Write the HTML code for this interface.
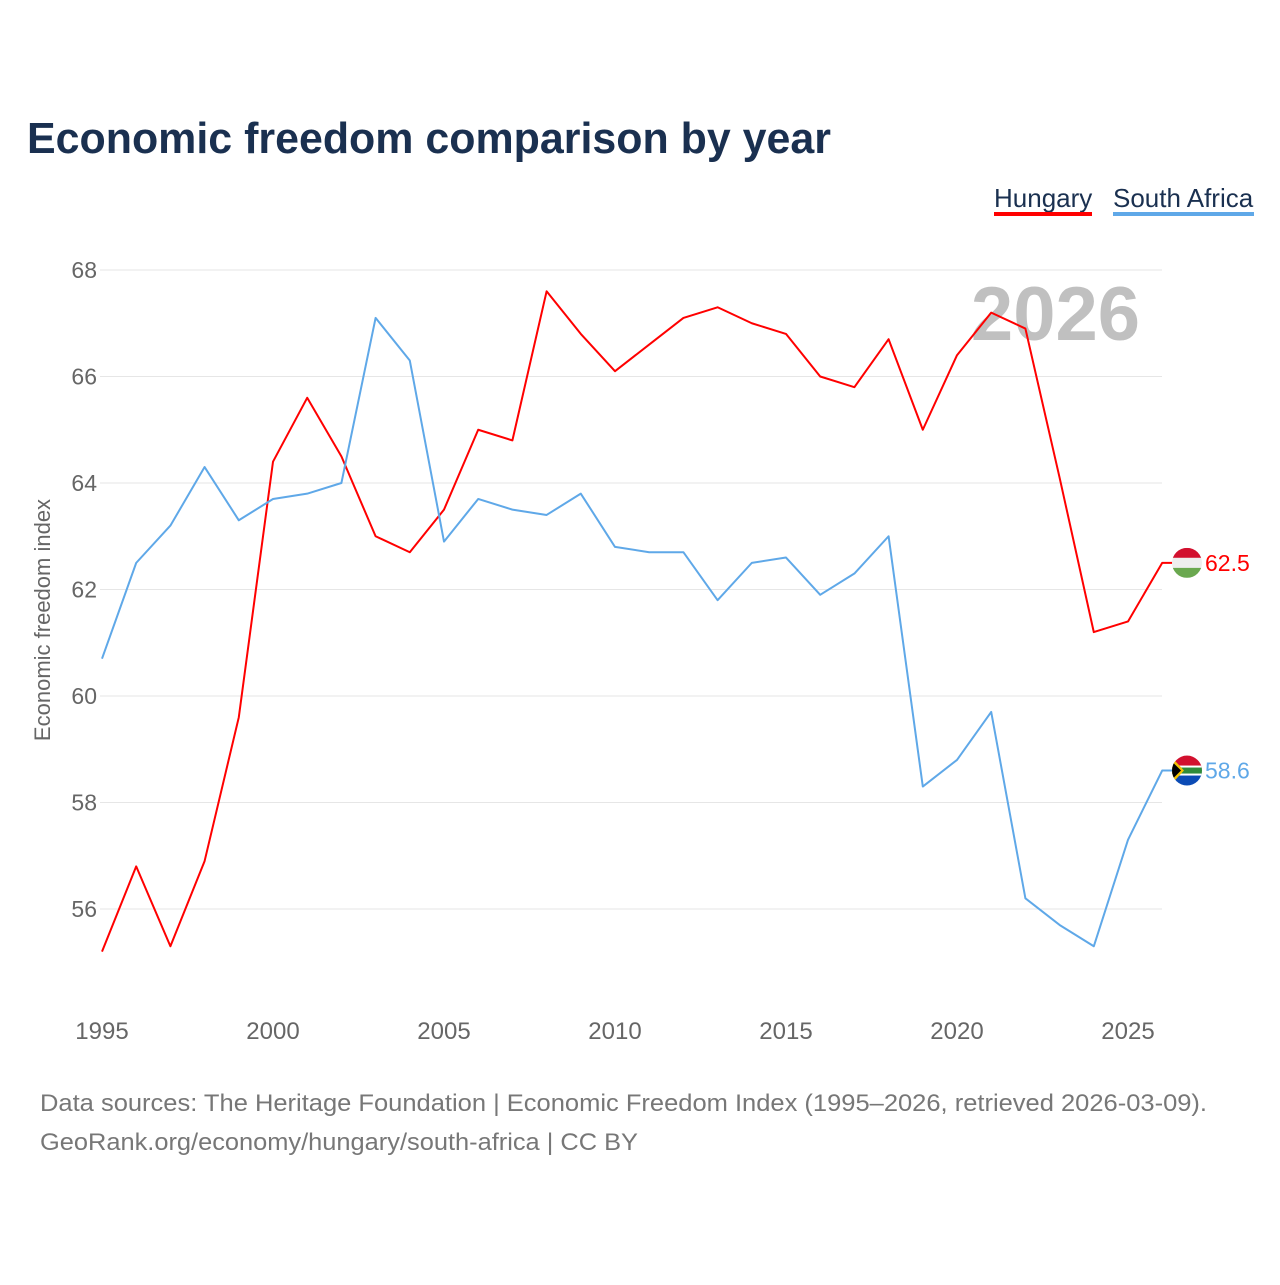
<!DOCTYPE html>
<html><head><meta charset="utf-8"><style>
body{margin:0;background:#fff;font-family:"Liberation Sans",sans-serif}
</style></head><body>
<svg id="c" width="1280" height="1280" xmlns="http://www.w3.org/2000/svg">
<text x="27" y="153" font-size="44" font-weight="bold" fill="#1a3050" textLength="804" lengthAdjust="spacingAndGlyphs">Economic freedom comparison by year</text>
<g>
<text x="994" y="207" font-size="26" fill="#1a3050">Hungary</text>
<rect x="994" y="212" width="98" height="4" fill="#ff0000"/>
<text x="1113" y="207" font-size="26" fill="#1a3050">South Africa</text>
<rect x="1113" y="212" width="141" height="4" fill="#5fa8e8"/>
</g>
<text x="1140" y="340" font-size="76" font-weight="bold" fill="#c0c0c0" text-anchor="end">2026</text>
<g id="grid"></g><g id="lines"></g>
<text transform="translate(50,620) rotate(-90)" font-size="22" fill="#666" text-anchor="middle">Economic freedom index</text>
<text x="40" y="1111" font-size="24" fill="#777" textLength="1167" lengthAdjust="spacingAndGlyphs">Data sources: The Heritage Foundation | Economic Freedom Index (1995–2026, retrieved 2026-03-09).</text>
<text x="40" y="1150" font-size="24" fill="#777" textLength="598" lengthAdjust="spacingAndGlyphs">GeoRank.org/economy/hungary/south-africa | CC BY</text>
</svg>
<script>
const years=[1995,1996,1997,1998,1999,2000,2001,2002,2003,2004,2005,2006,2007,2008,2009,2010,2011,2012,2013,2014,2015,2016,2017,2018,2019,2020,2021,2022,2023,2024,2025,2026];
const hungary=[55.2,56.8,55.3,56.9,59.6,64.4,65.6,64.5,63.0,62.7,63.5,65.0,64.8,67.6,66.8,66.1,66.6,67.1,67.3,67.0,66.8,66.0,65.8,66.7,65.0,66.4,67.2,66.9,64.1,61.2,61.4,62.5];
const southAfrica=[60.7,62.5,63.2,64.3,63.3,63.7,63.8,64.0,67.1,66.3,62.9,63.7,63.5,63.4,63.8,62.8,62.7,62.7,61.8,62.5,62.6,61.9,62.3,63.0,58.3,58.8,59.7,56.2,55.7,55.3,57.3,58.6];
const yTicks=[56,58,60,62,64,66,68];
const xTicks=[1995,2000,2005,2010,2015,2020,2025];
const NS="http://www.w3.org/2000/svg";
const x=v=>102+(v-1995)*34.2;
const y=v=>270+(68-v)*53.25;
function mk(t,a,p){const e=document.createElementNS(NS,t);for(const k in a)e.setAttribute(k,a[k]);p.appendChild(e);return e;}
const g=document.getElementById('grid'),L=document.getElementById('lines');
yTicks.forEach(t=>{
 const l=mk('line',{x1:100,x2:1162,y1:y(t),y2:y(t),stroke:'#e6e6e6','stroke-width':1},g);
 
 
 const tx=mk('text',{x:97,y:y(t)+8,'font-size':23,fill:'#666','text-anchor':'end'},g);tx.textContent=t;
 
 
});
xTicks.forEach(t=>{
 const tx=mk('text',{x:x(t),y:1039,'font-size':24,fill:'#666','text-anchor':'middle'},g);tx.textContent=t;
 
 
});
function series(vals,col,name){
 const pts=vals.map((v,i)=>x(years[i])+','+y(v));
 const last=vals[vals.length-1];
 pts.push((x(2026)+10)+','+y(last));
 const p=mk('polyline',{points:pts.join(' '),fill:'none',stroke:col,'stroke-width':2,'stroke-linejoin':'round'},L);
 
 
 const lb=mk('text',{x:1205,y:y(last)+8,'font-size':23,fill:col},L);lb.textContent=last.toFixed(1);
 
 
 return y(last);
}
const hy=series(hungary,'#ff0000','hungary');
const sy=series(southAfrica,'#5fa8e8','south-africa');
const cx=1187,r=15;
let d=mk('defs',{},L);
const c1=mk('clipPath',{id:'c1'},d);mk('circle',{cx:cx,cy:hy,r:r},c1);
const c2=mk('clipPath',{id:'c2'},d);mk('circle',{cx:cx,cy:sy,r:r},c2);
const hf=mk('g',{'clip-path':'url(#c1)'},L);


mk('rect',{x:cx-r,y:hy-r,width:2*r,height:10,fill:'#d2102e'},hf);
mk('rect',{x:cx-r,y:hy-5,width:2*r,height:10,fill:'#eee'},hf);
mk('rect',{x:cx-r,y:hy+5,width:2*r,height:10,fill:'#6aa84f'},hf);
const sf=mk('g',{'clip-path':'url(#c2)'},L);


mk('rect',{x:cx-r,y:sy-r,width:2*r,height:r,fill:'#d2102e'},sf);
mk('rect',{x:cx-r,y:sy,width:2*r,height:r,fill:'#0b4bb5'},sf);
mk('rect',{x:cx-r,y:sy-5,width:2*r,height:10,fill:'#fff'},sf);
mk('rect',{x:cx-r,y:sy-3,width:2*r,height:6,fill:'#2e8b3a'},sf);
mk('polygon',{points:`${cx-r},${sy-13} ${cx-3},${sy} ${cx-r},${sy+13}`,fill:'#f2c200'},sf);
mk('polygon',{points:`${cx-r},${sy-9} ${cx-6},${sy} ${cx-r},${sy+9}`,fill:'#000'},sf);
</script>
</body></html>
